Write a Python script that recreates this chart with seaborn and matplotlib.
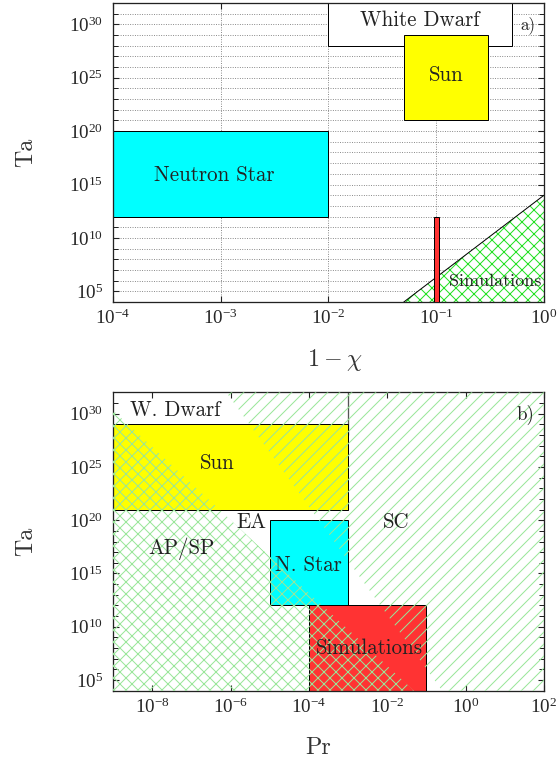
import numpy as np
import matplotlib
matplotlib.use('Agg')
import matplotlib.pyplot as plt
from matplotlib.patches import Rectangle
from matplotlib.ticker import LogLocator, LogFormatterSciNotation, NullLocator, NullFormatter
import seaborn as sns

# panel a) : Ta against 1 - chi
a_labels = ['White Dwarf', 'Sun', 'Neutron Star']
a_chi_lo = [1e-2, 0.05, 1e-5]
a_chi_hi = [0.5, 0.3, 1e-2]
a_ta_lo = [1e28, 1e21, 1e12]
a_ta_hi = [1e33, 1e29, 1e20]
a_colors = ['white', '#ffff00', '#00ffff']

a_sim_chi = [0.095, 0.105]      # red bar (simulations)
a_sim_ta = [1e3, 1e12]
a_dns_chi = [0.05, 1.0]         # edge of the hatched "Simulations" region
a_dns_ta = [1e4, 1e14]

# panel b) : Ta against Pr
b_labels = ['W. Dwarf', 'Sun', 'N. Star', 'Simulations']
b_pr_lo = [1e-10, 1e-10, 1e-5, 1e-4]
b_pr_hi = [1e-3, 1e-3, 1e-3, 1e-1]
b_ta_lo = [1e28, 1e21, 1e12, 1e3]
b_ta_hi = [1e33, 1e29, 1e20, 1e12]
b_colors = ['none', '#ffff00', '#00ffff', '#ff3333']
b_edges = ['#555555', 'black', 'black', 'black']

# regime boundaries  AP/SP | EA | SC
apsp_pr = [1e-9, 10**-1.32]
apsp_ta = [10**30.3, 1e4]
sc_pr = [10**-6.11, 10**-0.6, 1e2]
sc_ta = [1e32, 1e4, 1e4]

sns.set_style("ticks")
plt.rcParams['font.family'] = ['Liberation Serif', 'DejaVu Serif']
plt.rcParams['mathtext.fontset'] = 'cm'
plt.rcParams['axes.linewidth'] = 1.3
plt.rcParams['axes.edgecolor'] = '#222222'
plt.rcParams['hatch.linewidth'] = 1.0

TXT = dict(family='cmr10', color='#222222', ha='center', va='center')

fig = plt.figure(figsize=(560 / 72, 764 / 72), dpi=72)
ax1 = fig.add_axes([0.2018, 0.6047, 0.7696, 0.3914])
ax2 = fig.add_axes([0.2018, 0.0959, 0.7696, 0.3906])


def setup(ax, xlim, xbase):
    ax.set_xscale('log')
    ax.set_yscale('log')
    ax.set_xlim(xlim)
    ax.set_ylim(1e4, 1e32)
    ax.xaxis.set_major_locator(LogLocator(base=xbase))
    ax.xaxis.set_major_formatter(LogFormatterSciNotation(base=10))
    ax.xaxis.set_minor_locator(NullLocator())
    ax.yaxis.set_major_locator(LogLocator(base=1e5))
    ax.yaxis.set_major_formatter(LogFormatterSciNotation(base=10))
    ax.yaxis.set_minor_locator(LogLocator(base=10, subs=(1.0,), numticks=60))
    ax.yaxis.set_minor_formatter(NullFormatter())
    ax.tick_params(which='both', direction='in', top=True, right=True,
                   bottom=True, left=True, color='#222222')
    ax.tick_params(which='major', length=6, width=1.1, labelsize=19)
    ax.tick_params(which='minor', length=5, width=1.0)
    ax.tick_params(axis='y', pad=10)
    ax.tick_params(axis='x', pad=7)
    ax.set_ylabel('Ta', family='cmr10', fontsize=24, color='#333333')
    ax.yaxis.set_label_coords(-0.176, 0.5)


# ---- panel a ----
setup(ax1, (1e-4, 1.0), 10)
ax1.set_axisbelow(True)
ax1.grid(True, which='major', axis='x', ls=':', color='#777777', lw=0.9)
ax1.grid(True, which='both', axis='y', ls=':', color='#777777', lw=0.9)

for lo, hi, tlo, thi, c in zip(a_chi_lo, a_chi_hi, a_ta_lo, a_ta_hi, a_colors):
    ax1.add_patch(Rectangle((lo, tlo), hi - lo, thi - tlo, facecolor=c,
                            edgecolor='black', lw=1.0, zorder=2))

ax1.fill_between(a_dns_chi, a_dns_ta, 1e4, facecolor='white', edgecolor='#22e022',
                 hatch='xx', linewidth=0, zorder=2)
sns.lineplot(x=a_dns_chi, y=a_dns_ta, ax=ax1, color='black', lw=1.0, zorder=3,
             legend=False)
ax1.add_patch(Rectangle((a_sim_chi[0], a_sim_ta[0]), a_sim_chi[1] - a_sim_chi[0],
                        a_sim_ta[1] - a_sim_ta[0], facecolor='#ff3333',
                        edgecolor='black', lw=1.0, zorder=4))

ax1.text(0.712, 0.943, a_labels[0], transform=ax1.transAxes, fontsize=21, zorder=5, **TXT)
ax1.text(0.773, 0.759, a_labels[1], transform=ax1.transAxes, fontsize=21, zorder=5, **TXT)
ax1.text(0.234, 0.425, a_labels[2], transform=ax1.transAxes, fontsize=21, zorder=5, **TXT)
ax1.text(0.887, 0.068, 'Simulations', transform=ax1.transAxes, fontsize=18, zorder=5, **TXT)
ax1.text(0.963, 0.926, 'a)', transform=ax1.transAxes, fontsize=17, zorder=5, **TXT)
ax1.set_xlabel(r'$1-\chi$', fontsize=24, color='#333333')
ax1.xaxis.set_label_coords(0.515, -0.15)

# ---- panel b ----
setup(ax2, (1e-9, 1e2), 100)
for lo, hi, tlo, thi, c, e in zip(b_pr_lo, b_pr_hi, b_ta_lo, b_ta_hi, b_colors, b_edges):
    ax2.add_patch(Rectangle((lo, tlo), hi - lo, thi - tlo, facecolor=c,
                            edgecolor=e, lw=1.3 if c == 'none' else 1.0, zorder=2))

ax2.fill_between(apsp_pr, apsp_ta, 1e4, facecolor='none', edgecolor='#99e699',
                 hatch='xx', linewidth=0, zorder=3)
ax2.fill_between(sc_pr, sc_ta, 1e32, facecolor='none', edgecolor='#99e699',
                 hatch='//', linewidth=0, zorder=3)

ax2.text(0.144, 0.941, b_labels[0], transform=ax2.transAxes, fontsize=21, zorder=5, **TXT)
ax2.text(0.241, 0.761, b_labels[1], transform=ax2.transAxes, fontsize=21, zorder=5, **TXT)
ax2.text(0.453, 0.421, b_labels[2], transform=ax2.transAxes, fontsize=21, zorder=5, **TXT)
ax2.text(0.596, 0.141, b_labels[3], transform=ax2.transAxes, fontsize=21, zorder=5, **TXT)
ax2.text(0.322, 0.566, 'EA', transform=ax2.transAxes, fontsize=21, zorder=5, **TXT)
ax2.text(0.159, 0.477, 'AP/SP', transform=ax2.transAxes, fontsize=21, zorder=5, **TXT)
ax2.text(0.658, 0.566, 'SC', transform=ax2.transAxes, fontsize=21, zorder=5, **TXT)
ax2.text(0.956, 0.925, 'b)', transform=ax2.transAxes, fontsize=19, zorder=5, **TXT)
ax2.set_xlabel('Pr', family='cmr10', fontsize=24, color='#333333')
ax2.xaxis.set_label_coords(0.476, -0.155)

fig.savefig('out.png', dpi=72)
